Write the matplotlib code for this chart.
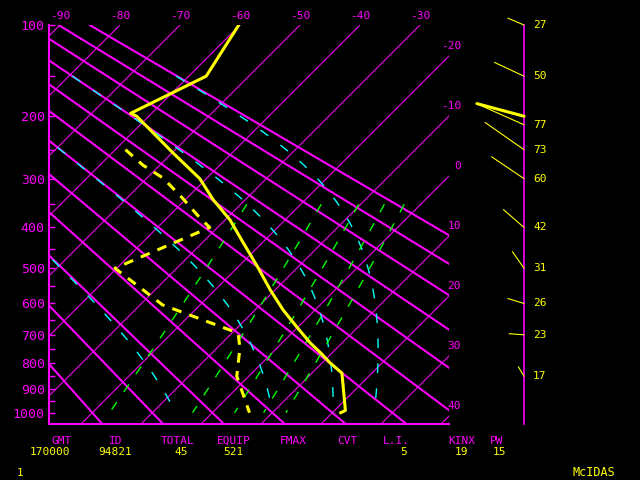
import numpy as np
import matplotlib
matplotlib.use('Agg')
import matplotlib.pyplot as plt
from matplotlib.transforms import Affine2D

KAPPA = 0.2857

# sounding: temperature (solid) and dewpoint (dashed), hPa / degC
temp_p = [100, 150, 196, 200, 256, 300, 341, 383, 429, 497, 560, 620, 674, 728, 762, 799, 838, 990, 1000]
temp_t = [-60.2, -57.1, -63.5, -62.0, -49.7, -41.1, -35.3, -29.2, -23.9, -16.7, -10.8, -5.3, -0.2, 4.7, 8.0,
          11.3, 15.0, 21.8, 21.4]
dwpt_p = [250, 276, 299, 337, 379, 400, 500, 604, 694, 745, 850, 1000]
dwpt_t = [-58.3, -52.8, -47.3, -40.8, -34.5, -31.3, -40.3, -26.3, -9.0, -6.2, -2.0, 6.2]

# winds on the right-hand scale
wind_p = [100, 150, 212, 250, 300, 400, 500, 600, 700, 850]
wind_spd = [27, 50, 77, 73, 60, 42, 31, 26, 23, 17]
wind_dir = [293, 295, 294, 305, 304, 311, 325, 287, 274, 329]
maxwind_p, maxwind_spd, maxwind_dir = 200, 75, 285

# background lines
isotherms = list(range(-90, 50, 10))
dry_adiabats_c = list(range(-20, 100, 10))
moist_theta_e_c = [0, 30, 60, 90]
mixing_ratios = [1, 3, 5, 7, 9]
p_ticks = list(range(100, 1001, 100))
p_minor = list(range(150, 1000, 100))

stat_names = ['GMT', 'ID', 'TOTAL', 'EQUIP', 'FMAX', 'CVT', 'L.I.', 'KINX', 'PW']
stat_values = ['170000', '94821', '45', '521', '', '', '5', '19', '15']

MAG = '#ff00ff'
YEL = '#ffff00'
CYN = '#00ffff'
GRN = '#00ff00'

plt.rcParams['font.family'] = 'DejaVu Sans Mono'
plt.rcParams['lines.scale_dashes'] = False


def fwd(p):
    return np.power(np.clip(p, 1e-3, None), KAPPA)


def inv(v):
    return np.power(np.clip(v, 1e-6, None), 1.0 / KAPPA)


def es(t):
    return 6.112 * np.exp(17.67 * t / (t + 243.5))


def theta_e(t, p):
    tk = t + 273.15
    e = es(t)
    w = 0.622 * e / (p - e)
    return tk * (1000.0 / p) ** KAPPA * np.exp(2.5e6 * w / (1004.0 * tk))


def moist_temp(the, p):
    lo = np.full_like(p, -130.0)
    hi = np.full_like(p, 45.0)
    for _ in range(60):
        mid = (lo + hi) / 2
        above = theta_e(mid, p) > the
        hi = np.where(above, mid, hi)
        lo = np.where(above, lo, mid)
    return (lo + hi) / 2


def mixing_temp(w, p):
    e = w * p / (622.0 + w)
    a = np.log(e / 6.112)
    return 243.5 * a / (17.67 - a)


fig = plt.figure(figsize=(6.4, 4.8), dpi=100, facecolor='black')
ax = fig.add_axes([49 / 640, 56 / 480, 400 / 640, 399 / 480])
ax.set_facecolor('black')
ax.set_yscale('function', functions=(fwd, inv))
t_left, t_right = -25.33, 41.33
ax.set_xlim(t_left, t_right)
ax.set_ylim(1050, 100)
ax.set_autoscale_on(False)

shear = (399 / 480 * 4.8) / (400 / 640 * 6.4)
skew = ax.transData + ax.transAxes.inverted() + Affine2D.from_values(1, 0, shear, 1, 0, 0) + ax.transAxes

pp = np.linspace(100, 1050, 200)
for t in isotherms:
    ax.plot([t, t], [100, 1050], color=MAG, lw=0.75, transform=skew, zorder=1)
    xtop = (t - t_left) / (t_right - t_left) + shear
    if 0 <= xtop <= 1.0:
        ax.annotate(str(t), xy=(t, 100), xycoords=skew, xytext=(0, 9), textcoords='offset pixels',
                    ha='center', va='center', color=MAG, fontsize=8, annotation_clip=False)
    else:
        yr = (1 - (t - t_left) / (t_right - t_left)) / shear
        if 0 <= yr <= 1:
            ax.annotate(str(t), xy=(1, yr), xycoords='axes fraction', xytext=(12, 10),
                        textcoords='offset pixels', ha='right', va='center', color=MAG, fontsize=8,
                        annotation_clip=False)

for th in dry_adiabats_c:
    tt = (th + 273.15) * (pp / 1000.0) ** KAPPA - 273.15
    ax.plot(tt, pp, color=MAG, lw=1.5, transform=skew, zorder=2)

pm = np.linspace(150, 1000, 200)
for the in moist_theta_e_c:
    tt = moist_temp(the + 273.15, pm)
    ax.plot(tt, pm, color=CYN, lw=1.0, ls=(0, (7, 11)), transform=skew, zorder=3)

pw = np.linspace(350, 1000, 100)
for w in mixing_ratios:
    ax.plot(mixing_temp(w, pw), pw, color=GRN, lw=1.0, ls=(0, (6.5, 9)), transform=skew, zorder=3)

ax.plot(temp_t, temp_p, color=YEL, lw=2.2, transform=skew, zorder=5, solid_joinstyle='round')
ax.plot(dwpt_t, dwpt_p, color=YEL, lw=2.2, ls=(0, (7, 6)), transform=skew, zorder=5)

for s in ['top', 'right']:
    ax.spines[s].set_visible(False)
for s in ['left', 'bottom']:
    ax.spines[s].set_color(MAG)
    ax.spines[s].set_linewidth(1.5)
ax.set_xticks([])
ax.set_yticks(p_ticks)
ax.set_yticklabels([str(p) for p in p_ticks])
ax.set_yticks(p_minor, minor=True)
ax.yaxis.set_minor_formatter(plt.NullFormatter())
ax.tick_params(axis='y', which='both', direction='in', length=4, width=1, color=MAG,
               labelcolor=MAG, labelsize=9.5, pad=3)

# wind scale
axw = fig.add_axes([524 / 640, 56 / 480, 100 / 640, 399 / 480])
axw.set_facecolor('none')
axw.set_yscale('function', functions=(fwd, inv))
axw.set_ylim(1050, 100)
axw.set_xlim(0, 1)
for s in ['top', 'right', 'bottom']:
    axw.spines[s].set_visible(False)
axw.spines['left'].set_color(MAG)
axw.spines['left'].set_linewidth(1.2)
axw.spines['left'].set_bounds(100, 1050)
axw.set_xticks([])
axw.set_yticks([])
axw.yaxis.set_minor_locator(plt.NullLocator())

scale = 0.65
for p, spd, d in zip(wind_p, wind_spd, wind_dir):
    dx = scale * spd * np.sin(np.radians(d))
    dy = scale * spd * np.cos(np.radians(d))
    axw.annotate('', xy=(0, p), xytext=(dx, dy), textcoords='offset pixels',
                 arrowprops=dict(arrowstyle='-', color=YEL, lw=0.8, shrinkA=0, shrinkB=0),
                 annotation_clip=False)
    axw.annotate(str(spd), xy=(0, p), xytext=(9, 0), textcoords='offset pixels',
                 ha='left', va='center', color=YEL, fontsize=8, annotation_clip=False)
dx = scale * maxwind_spd * np.sin(np.radians(maxwind_dir))
dy = scale * maxwind_spd * np.cos(np.radians(maxwind_dir))
axw.annotate('', xy=(0, maxwind_p), xytext=(dx, dy), textcoords='offset pixels',
             arrowprops=dict(arrowstyle='-', color=YEL, lw=2.2, shrinkA=0, shrinkB=0),
             annotation_clip=False)

# station line at the bottom
name_x = [72, 122, 195, 251, 307, 357, 410, 475, 503]
value_x = [70, 132, 188, 243, 0, 0, 407, 468, 506]
for name, nx, val, vx in zip(stat_names, name_x, stat_values, value_x):
    fig.text(nx / 640, 1 - 441 / 480, name, color=MAG, fontsize=8, ha='right', va='center')
    if val:
        fig.text(vx / 640, 1 - 452 / 480, val, color=YEL, fontsize=8, ha='right', va='center')
fig.text(17 / 640, 1 - 473 / 480, '1', color=YEL, fontsize=8, ha='left', va='center')
fig.text(615 / 640, 1 - 472 / 480, 'McIDAS', color=YEL, fontsize=8.5, ha='right', va='center')

fig.savefig('out.png', dpi=100, facecolor='black')
